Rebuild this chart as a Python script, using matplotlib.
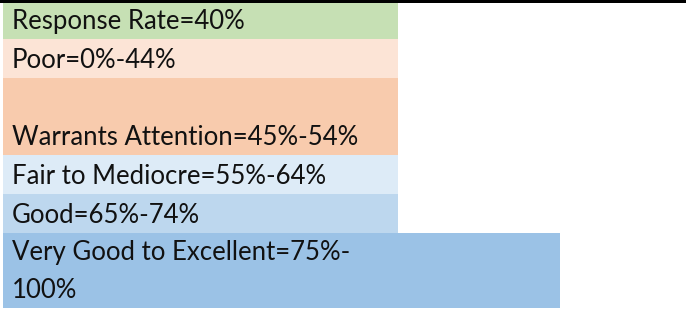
import matplotlib
matplotlib.use("Agg")
import matplotlib.pyplot as plt

# rating bands, top to bottom
labels = [
    "Response Rate=40%",
    "Poor=0%-44%",
    "Warrants Attention=45%-54%",
    "Fair to Mediocre=55%-64%",
    "Good=65%-74%",
    "Very Good to Excellent=75%-\n100%",
]
row_edges = [3, 39, 78, 155, 194, 233, 308]
row_right = [398, 398, 398, 398, 398, 560]
colors = ["#C6E0B4", "#FCE4D6", "#F8CBAD", "#DDEBF7", "#BDD7EE", "#9BC2E6"]

W, H = 686, 309
fig = plt.figure(figsize=(W / 100, H / 100), dpi=100)
ax = fig.add_axes([0, 0, 1, 1])
ax.set_xlim(0, W)
ax.set_ylim(H, 0)
ax.axis("off")

# black rule along the top
ax.bar(0, 3, width=W, bottom=0, align="edge", color="black", linewidth=0)

for i, lab in enumerate(labels):
    top, bot = row_edges[i], row_edges[i + 1]
    ax.bar(3, bot - top, width=row_right[i] - 3, bottom=top, align="edge",
           color=colors[i], linewidth=0)
    lines = lab.split("\n")
    for j, line in enumerate(reversed(lines)):
        ax.text(12, bot - 10 - j * 38, line, fontsize=18.5, family="Lato",
                color="#111111", va="baseline", ha="left")

fig.savefig("out.png", dpi=100)
